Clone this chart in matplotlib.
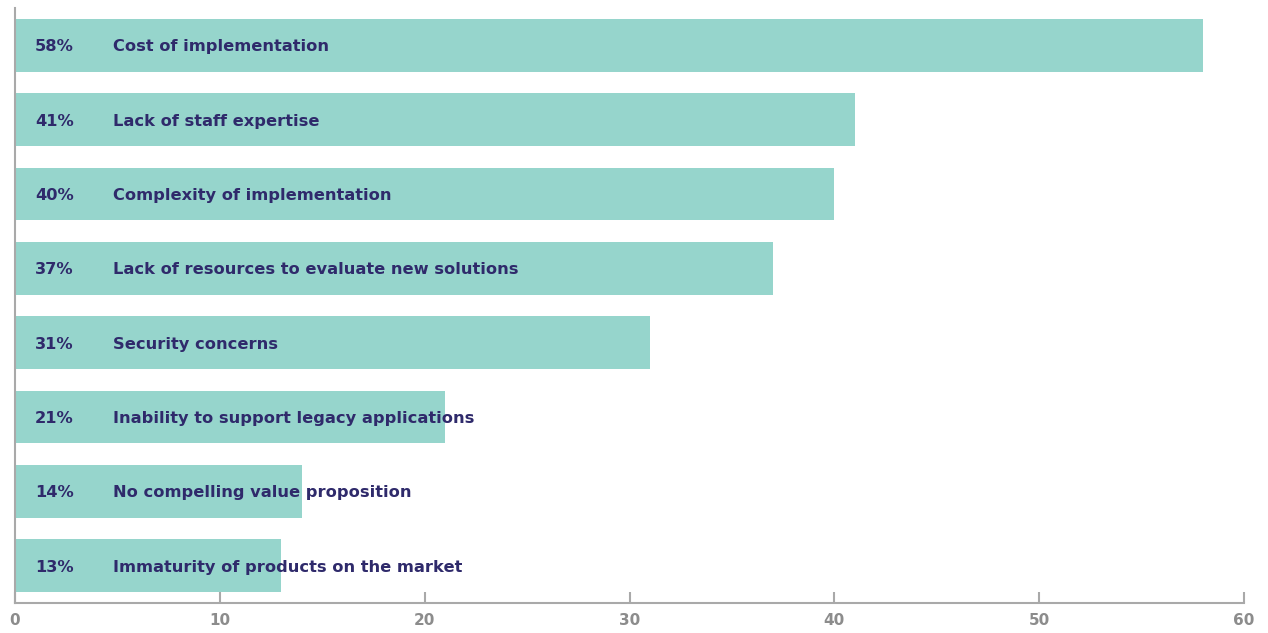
import matplotlib
matplotlib.use("Agg")
import matplotlib.pyplot as plt

# Barriers to adoption, share of respondents (%)
categories = [
    "Cost of implementation",
    "Lack of staff expertise",
    "Complexity of implementation",
    "Lack of resources to evaluate new solutions",
    "Security concerns",
    "Inability to support legacy applications",
    "No compelling value proposition",
    "Immaturity of products on the market",
]
values = [58, 41, 40, 37, 31, 21, 14, 13]
xticks = [0, 10, 20, 30, 40, 50, 60]

bar_color = "#96d5cc"
text_color = "#2f2a6b"
axis_color = "#a9a9a9"
tick_label_color = "#8c8c8c"
font = "DejaVu Sans"

fig = plt.figure(figsize=(12.68, 6.33), dpi=100)
ax = fig.add_axes([15 / 1268, 30 / 633, 1229 / 1268, 595 / 633])

y = list(range(len(categories)))
ax.barh(y, values, height=0.71, color=bar_color, zorder=1)

for yi, v, label in zip(y, values, categories):
    ax.text(0.98, yi + 0.02, f"{v}%", va="center", ha="left", fontsize=11.7,
            fontweight="bold", family=font, color=text_color, zorder=3)
    ax.text(4.8, yi + 0.02, label, va="center", ha="left", fontsize=11.7,
            fontweight="bold", family=font, color=text_color, zorder=3)

ax.set_xlim(0, 60)
ax.set_ylim(len(categories) - 0.5, -0.5)
ax.set_yticks([])
ax.set_xticks(xticks)
ax.set_xticklabels([str(t) for t in xticks], family=font, fontweight="bold",
                   fontsize=11, color=tick_label_color)
ax.tick_params(axis="x", direction="in", length=8, width=1.5,
               color=axis_color, pad=7)

for side in ["top", "right"]:
    ax.spines[side].set_visible(False)
for side in ["left", "bottom"]:
    ax.spines[side].set_color(axis_color)
    ax.spines[side].set_linewidth(1.5)

fig.savefig("out.png", dpi=100)
